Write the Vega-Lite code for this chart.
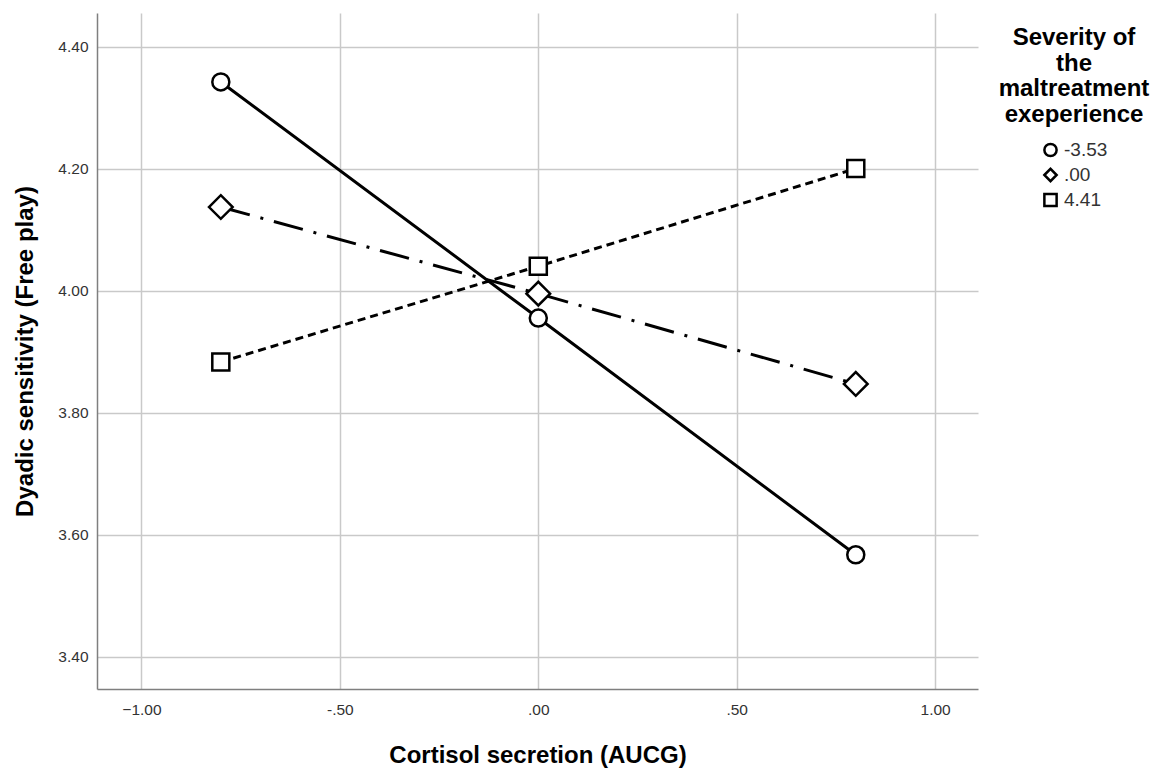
{
  "$schema": "https://vega.github.io/schema/vega-lite/v6.json",
  "width": 881,
  "height": 676,
  "autosize": {"type": "none"},
  "padding": {"left": 97, "top": 13, "right": 172, "bottom": 82},
  "background": "white",
  "config": {
    "view": {"stroke": null},
    "font": "Liberation Sans",
    "axis": {
      "domainColor": "#7f7f7f",
      "domainWidth": 1.5,
      "gridColor": "#c9c9c9",
      "gridWidth": 1.5,
      "ticks": false,
      "labelFont": "Liberation Sans",
      "labelFontSize": 15.5,
      "labelColor": "#333333",
      "titleFont": "Liberation Sans",
      "titleFontSize": 24,
      "titleFontWeight": "bold",
      "titleColor": "#000000"
    }
  },
  "data": {
    "values": [
      {"cortisol": -0.8, "sensitivity": 4.342, "severity": "-3.53"},
      {"cortisol": 0.0, "sensitivity": 3.955, "severity": "-3.53"},
      {"cortisol": 0.8, "sensitivity": 3.567, "severity": "-3.53"},
      {"cortisol": -0.8, "sensitivity": 4.137, "severity": ".00"},
      {"cortisol": 0.0, "sensitivity": 3.995, "severity": ".00"},
      {"cortisol": 0.8, "sensitivity": 3.847, "severity": ".00"},
      {"cortisol": -0.8, "sensitivity": 3.883, "severity": "4.41"},
      {"cortisol": 0.0, "sensitivity": 4.040, "severity": "4.41"},
      {"cortisol": 0.8, "sensitivity": 4.200, "severity": "4.41"}
    ]
  },
  "encoding": {
    "x": {
      "field": "cortisol",
      "type": "quantitative",
      "scale": {"domain": [-1.112, 1.108], "nice": false, "zero": false},
      "axis": {
        "title": "Cortisol secretion (AUCG)",
        "values": [-1, -0.5, 0, 0.5, 1],
        "labelExpr": "datum.value == 0 ? '.00' : datum.value == 0.5 ? '.50' : datum.value == -0.5 ? '-.50' : format(datum.value, '.2f')",
        "labelPadding": 13,
        "titleBaseline": "alphabetic",
        "titleY": 73
      }
    },
    "y": {
      "field": "sensitivity",
      "type": "quantitative",
      "scale": {"domain": [3.347, 4.455], "nice": false, "zero": false},
      "axis": {
        "title": "Dyadic sensitivity (Free play)",
        "values": [3.4, 3.6, 3.8, 4.0, 4.2, 4.4],
        "format": ".2f",
        "labelPadding": 9,
        "titleBaseline": "alphabetic",
        "titleX": -65,
        "titleY": 338
      }
    }
  },
  "layer": [
    {
      "transform": [{"filter": "datum.severity == '-3.53'"}],
      "mark": {"type": "line", "color": "black", "strokeWidth": 3},
      "encoding": {}
    },
    {
      "transform": [{"filter": "datum.severity == '.00'"}],
      "mark": {"type": "line", "color": "black", "strokeWidth": 3, "strokeDash": [30, 11, 3, 11]},
      "encoding": {}
    },
    {
      "transform": [{"filter": "datum.severity == '4.41'"}],
      "mark": {"type": "line", "color": "black", "strokeWidth": 3, "strokeDash": [8, 5]},
      "encoding": {}
    },
    {
      "mark": {"type": "point", "filled": false, "fill": "white", "color": "black", "strokeWidth": 2.5, "opacity": 1, "size": 290},
      "encoding": {
        "shape": {
          "field": "severity",
          "type": "nominal",
          "scale": {"domain": ["-3.53", ".00", "4.41"], "range": ["circle", "diamond", "square"]},
          "legend": {
            "title": ["Severity of", "the", "maltreatment", "exeperience"],
            "orient": "none",
            "legendX": 902,
            "legendY": 13,
            "titleFontSize": 24,
            "titleFontWeight": "bold",
            "titleColor": "#000000",
            "titleLineHeight": 25.5,
            "titleAlign": "center",
            "titleAnchor": "middle",
            "titlePadding": 14,
            "labelFontSize": 19,
            "labelColor": "#333333",
            "symbolSize": 150,
            "symbolStrokeWidth": 2.5
          }
        }
      }
    },
    {
      "transform": [{"filter": "datum.severity == '.00'"}],
      "mark": {"type": "point", "shape": "diamond", "filled": false, "fill": "white", "color": "black", "strokeWidth": 2.5, "opacity": 1, "size": 560},
      "encoding": {}
    }
  ]
}
